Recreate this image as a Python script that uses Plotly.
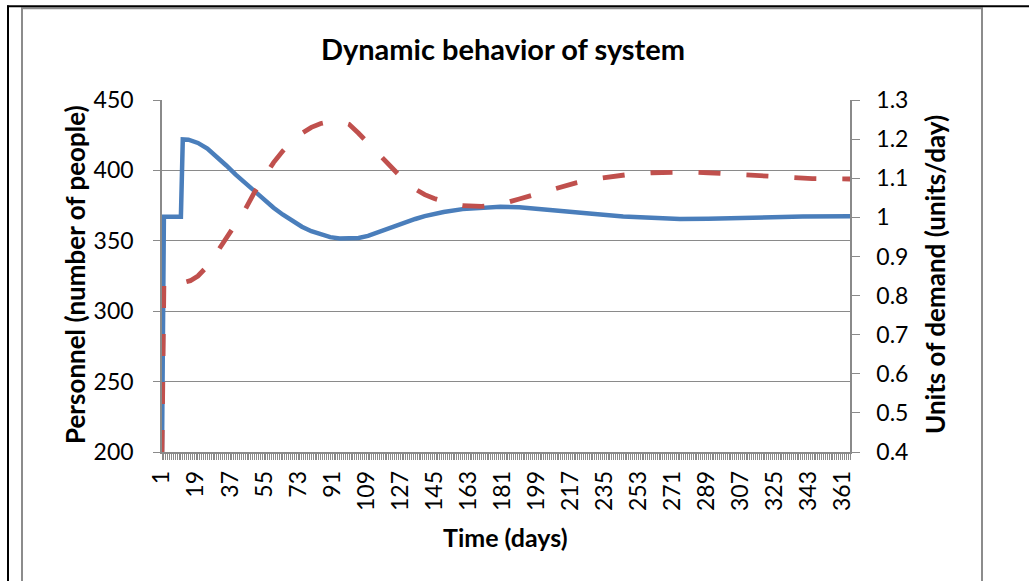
import plotly.graph_objects as go

# ---------------- data ----------------
personnel_days = [1, 2, 11, 12, 15, 20, 25, 30, 35, 40, 45, 50, 55, 60, 65, 70, 75, 80, 85, 90,
                  95, 100, 105, 110, 115, 120, 125, 130, 135, 140, 145, 150, 160, 170, 180, 190,
                  200, 215, 230, 245, 260, 275, 290, 305, 320, 340, 365]
personnel = [200, 367, 367, 422, 421.8, 419.5, 415.5, 410, 403.5, 397, 391, 385, 379, 373.5,
             368.5, 364, 360, 356.8, 354.3, 352.6, 351.7, 351.5, 352, 353.5, 356, 358.5, 361,
             363.5, 365.5, 367.5, 369.2, 370.5, 372.5, 373.7, 374.2, 373.8, 372.8, 371, 369,
             367.3, 366, 365.5, 365.6, 366.2, 366.8, 367.2, 367.5]

demand_days = [1, 2, 12, 16, 20, 25, 30, 35, 40, 45, 50, 55, 60, 65, 70, 75, 80, 85, 90, 95,
               100, 105, 110, 115, 120, 125, 130, 135, 140, 145, 150, 155, 160, 165, 170, 175,
               180, 185, 190, 195, 200, 210, 220, 230, 240, 250, 260, 270, 280, 290, 300, 310,
               320, 330, 345, 365]
demand = [0.4, 0.833, 0.833, 0.838, 0.85, 0.875, 0.91, 0.945, 0.98, 1.02, 1.065, 1.105, 1.14,
          1.17, 1.195, 1.215, 1.23, 1.24, 1.245, 1.246, 1.238, 1.215, 1.19, 1.165, 1.14, 1.113,
          1.09, 1.072, 1.058, 1.048, 1.04, 1.034, 1.03, 1.028, 1.028, 1.03, 1.034, 1.04, 1.047,
          1.054, 1.062, 1.075, 1.088, 1.098, 1.106, 1.111, 1.114, 1.116, 1.116, 1.114, 1.111,
          1.107, 1.104, 1.101, 1.099, 1.098]

x_tick_labels = [str(v) for v in range(1, 362, 18)]
left_ticks = [200, 250, 300, 350, 400, 450]
right_ticks = [0.4, 0.5, 0.6, 0.7, 0.8, 0.9, 1, 1.1, 1.2, 1.3]

# ---------------- layout helpers ----------------
W, H = 1029, 581
L, R, T, B = 162, 850, 100, 452


def px(x):
    return (x - L) / (R - L)


def py(y):
    return (B - y) / (B - T)


FONT = "Lato"
GRID = "#8a8a8a"

fig = go.Figure()
fig.add_trace(go.Scatter(x=personnel_days, y=personnel, mode="lines",
                         line=dict(color="#4A7EBB", width=4.5), name="Personnel",
                         yaxis="y"))
fig.add_trace(go.Scatter(x=demand_days, y=demand, mode="lines",
                         line=dict(color="#C0504D", width=4.8, dash="22px,26px"),
                         name="Demand", yaxis="y2"))

fig.update_layout(
    width=W, height=H,
    margin=dict(l=L, r=W - R, t=T, b=H - B, pad=0),
    paper_bgcolor="white", plot_bgcolor="white",
    showlegend=False,
    font=dict(family=FONT, color="black", size=23),
    xaxis=dict(range=[1, 365], tickmode="array", tickvals=[int(v) for v in x_tick_labels],
               ticktext=x_tick_labels, tickangle=-90, ticks="outside", ticklen=6,
               tickcolor=GRID, showline=True, linecolor=GRID, linewidth=1.5,
               showgrid=False, zeroline=False, tickfont=dict(size=23, family=FONT),
               minor=dict(dtick=1, tick0=1, ticks="outside", ticklen=6, tickcolor=GRID,
                          tickwidth=1, showgrid=False),
               ticklabelstandoff=2),
    yaxis=dict(range=[200, 450], tickmode="array", tickvals=left_ticks, ticks="outside",
               ticklen=7, tickcolor=GRID, showline=True, linecolor=GRID, linewidth=1.5,
               showgrid=True, gridcolor=GRID, gridwidth=1.3, zeroline=False,
               tickfont=dict(size=23, family=FONT), ticklabelstandoff=15),
    yaxis2=dict(range=[0.4, 1.3], tickmode="array", tickvals=right_ticks,
                ticktext=[("%g" % v) for v in right_ticks], overlaying="y", side="right",
                ticks="outside", ticklen=8, tickcolor=GRID, showline=True, linecolor=GRID,
                linewidth=1.5, showgrid=False, zeroline=False,
                tickfont=dict(size=23, family=FONT), ticklabelstandoff=12),
)

annotations = [
    dict(text="<b>Dynamic behavior of system</b>", x=px(503), y=py(48), xref="paper",
         yref="paper", showarrow=False, xanchor="center", yanchor="middle",
         font=dict(size=29, family=FONT, color="black")),
    dict(text="<b>Time (days)</b>", x=px(505), y=py(537), xref="paper", yref="paper",
         showarrow=False, xanchor="center", yanchor="middle",
         font=dict(size=25, family=FONT, color="black")),
    dict(text="<b>Personnel (number of people)</b>", x=px(75), y=py(275), xref="paper",
         yref="paper", showarrow=False, xanchor="center", yanchor="middle", textangle=-90,
         font=dict(size=26, family=FONT, color="black")),
    dict(text="<b>Units of demand (units/day)</b>", x=px(935), y=py(275), xref="paper",
         yref="paper", showarrow=False, xanchor="center", yanchor="middle", textangle=-90,
         font=dict(size=26, family=FONT, color="black")),
]
fig.update_layout(annotations=annotations)

shapes = [
    # outer black frame pieces
    dict(type="line", xref="paper", yref="paper", x0=px(8), x1=px(8), y0=py(5.5), y1=py(600),
         line=dict(color="black", width=2)),
    dict(type="line", xref="paper", yref="paper", x0=px(7), x1=px(1040), y0=py(6.3), y1=py(6.3),
         line=dict(color="black", width=2)),
    # grey chart-area border
    dict(type="rect", xref="paper", yref="paper", x0=px(22), x1=px(982), y0=py(8.2), y1=py(600),
         line=dict(color="#8c8c8c", width=2), fillcolor="rgba(0,0,0,0)", layer="below"),
]
fig.update_layout(shapes=shapes)

fig.write_html("out.html")
